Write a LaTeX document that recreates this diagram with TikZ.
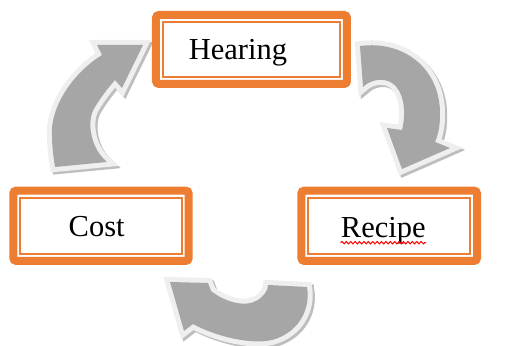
\documentclass[tikz,border=0pt]{standalone}
\usepackage{fontspec}
\setmainfont{Liberation Serif}
\usepackage{tikz}
\usetikzlibrary{decorations.pathmorphing}
\definecolor{boxOrange}{HTML}{ED7D31}
\definecolor{arrowGray}{HTML}{A6A6A6}
\definecolor{arrowRim}{HTML}{EFEFEF}
\definecolor{arrowShade}{HTML}{BEBEBE}

\begin{document}
\begin{tikzpicture}[
  x=0.5pt, y=-0.5pt,
  every node/.style={font=\fontsize{15.25}{18}\selectfont},
  stagebox/.style={rectangle, rounded corners=1.5pt, draw=boxOrange, line width=4pt,
                   fill=white, outer sep=0pt, inner sep=0pt},
  innerline/.style={draw=boxOrange, line width=1pt},
  stagetext/.style={anchor=base, inner sep=0pt},
  bentarrow/.style={fill=arrowGray, line join=round,
                    preaction={draw=arrowShade, fill=arrowShade, line width=5pt,
                               transform canvas={xshift=1.1pt, yshift=-1.1pt}},
                    preaction={draw=arrowRim, line width=5pt}},
  spellmark/.style={draw=red, line width=0.5pt, decorate,
                    decoration={snake, amplitude=0.6pt, segment length=2.2pt}}
]
  \useasboundingbox (0,0) rectangle (516,346);

  % curved arrows of the cycle
  \path[bentarrow] (360,46) .. controls (405,40) and (441,70) .. (440,115)
    .. controls (440,127) and (438,135) .. (435,142) -- (450,148) -- (402,169)
    -- (387,128) -- (402,130) .. controls (407,110) and (403,90) .. (392,83)
    .. controls (383,77) and (370,80) .. (363,87) -- cycle;
  \path[bentarrow] (170,282) -- (208,283) -- (211,291)
    .. controls (225,302) and (245,308) .. (258,300)
    .. controls (265,295) and (268,290) .. (268,285) -- (307,287)
    .. controls (311,310) and (298,333) .. (272,340)
    .. controls (250,345) and (215,336) .. (193,324) -- (184,331) -- cycle;
  \path[bentarrow] (143,45) -- (97,45) -- (102,55)
    .. controls (70,75) and (50,110) .. (52,135)
    .. controls (52,150) and (54,160) .. (55,167) -- (107,162)
    .. controls (90,148) and (86,120) .. (95,107)
    .. controls (101,97) and (108,88) .. (115,80) -- (122,88) -- cycle;

  % stages
  \node[stagebox, minimum width=95.5pt, minimum height=34.5pt] (hearingbox) at (251.5,49.5) {};
  \node[stagebox, minimum width=87.85pt, minimum height=35.15pt] (recipebox) at (389.2,225.8) {};
  \node[stagebox, minimum width=87.7pt, minimum height=35.15pt] (costbox) at (101,225.8) {};
  \foreach \n in {hearingbox,recipebox,costbox}
    \draw[innerline] ([shift={(3.5pt,-3.5pt)}]\n.north west) rectangle ([shift={(-3.5pt,3.5pt)}]\n.south east);

  \node[stagetext] (hearing) at (238,60) {Hearing};
  \node[stagetext] (recipe) at (383.3,237.3) {Recipe};
  \node[stagetext] (cost) at (96.7,236.7) {Cost};

  \draw[spellmark] ([yshift=-2.7pt]recipe.base west) -- ([yshift=-2.7pt]recipe.base east);
\end{tikzpicture}
\end{document}
